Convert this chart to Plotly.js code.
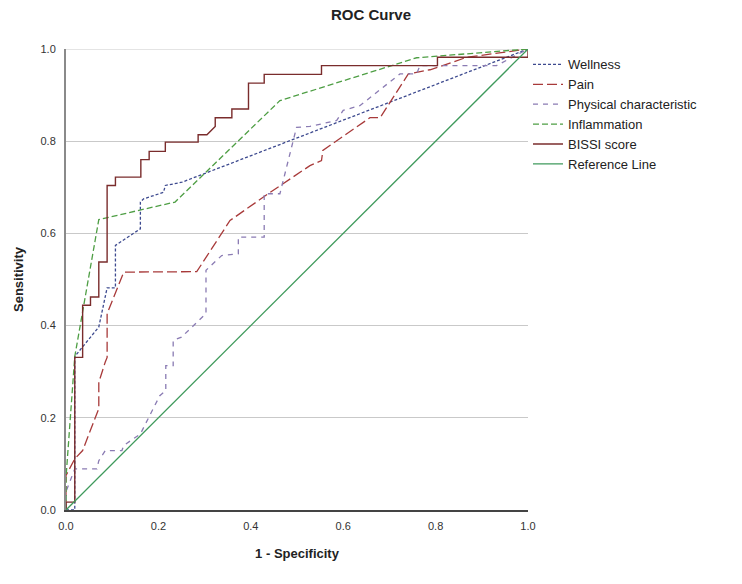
<!DOCTYPE html>
<html>
<head>
<meta charset="utf-8">
<script src="https://cdn.plot.ly/plotly-3.0.1.min.js"></script>
<style>html,body{margin:0;padding:0;background:#fff;}#chart{width:742px;height:584px;}</style>
</head>
<body>
<div id="chart"></div>
<script>
// ---- data ----
const seriesNames = ["Wellness", "Pain", "Physical characteristic", "Inflammation", "BISSI score", "Reference Line"];

const wellnessX = [0, 0.019, 0.019, 0.071, 0.089, 0.107, 0.107, 0.161, 0.161, 0.168, 0.211, 0.215, 0.251, 1];
const wellnessY = [0, 0, 0.333, 0.397, 0.482, 0.482, 0.574, 0.610, 0.668, 0.675, 0.689, 0.704, 0.711, 1];

const painX = [0, 0, 0.019, 0.036, 0.071, 0.071, 0.085, 0.089, 0.089, 0.125, 0.283, 0.326, 0.355, 0.442, 0.528, 0.553, 0.556, 0.658, 0.680, 0.741, 0.788, 0.810, 0.867, 1];
const painY = [0, 0.075, 0.111, 0.129, 0.220, 0.277, 0.321, 0.331, 0.426, 0.516, 0.517, 0.585, 0.628, 0.689, 0.747, 0.758, 0.780, 0.851, 0.851, 0.946, 0.955, 0.962, 0.982, 1];

const physX = [0, 0, 0.019, 0.067, 0.071, 0.085, 0.121, 0.125, 0.161, 0.203, 0.216, 0.216, 0.232, 0.232, 0.250, 0.303, 0.303, 0.337, 0.373, 0.373, 0.429, 0.429, 0.463, 0.499, 0.528, 0.586, 0.600, 0.636, 0.723, 0.759, 0.766, 0.932, 1];
const physY = [0, 0.040, 0.089, 0.089, 0.107, 0.129, 0.129, 0.140, 0.165, 0.248, 0.259, 0.313, 0.313, 0.368, 0.375, 0.426, 0.520, 0.552, 0.556, 0.592, 0.592, 0.686, 0.686, 0.830, 0.832, 0.845, 0.867, 0.877, 0.946, 0.946, 0.964, 0.964, 1];

const inflX = [0, 0, 0.019, 0.071, 0.236, 0.463, 0.759, 1];
const inflY = [0, 0.070, 0.333, 0.630, 0.668, 0.888, 0.981, 1];

const bissiX = [0, 0, 0.019, 0.019, 0.036, 0.036, 0.053, 0.053, 0.071, 0.071, 0.089, 0.089, 0.107, 0.107, 0.162, 0.162, 0.180, 0.180, 0.215, 0.215, 0.286, 0.286, 0.305, 0.323, 0.323, 0.359, 0.359, 0.395, 0.395, 0.429, 0.429, 0.553, 0.553, 0.804, 0.804, 1, 1];
const bissiY = [0, 0.017, 0.017, 0.331, 0.331, 0.444, 0.444, 0.462, 0.462, 0.538, 0.538, 0.704, 0.704, 0.722, 0.722, 0.760, 0.760, 0.778, 0.778, 0.798, 0.798, 0.814, 0.814, 0.832, 0.851, 0.851, 0.870, 0.870, 0.926, 0.926, 0.945, 0.945, 0.964, 0.964, 0.982, 0.982, 1];

const refX = [0, 1];
const refY = [0, 1];

const tickVals = [0, 0.2, 0.4, 0.6, 0.8, 1.0];
const tickText = ["0.0", "0.2", "0.4", "0.6", "0.8", "1.0"];

// ---- styles ----
const styles = [
  {color: "#3d4a8f", width: 1.3, dash: "3px,2px"},
  {color: "#a83a3a", width: 1.3, dash: "10px,4px"},
  {color: "#8a7bb3", width: 1.3, dash: "5px,5px"},
  {color: "#4e9e44", width: 1.3, dash: "6px,3px"},
  {color: "#7a2c2c", width: 1.4, dash: "solid"},
  {color: "#3f9a5c", width: 1.3, dash: "solid"}
];
const xs = [wellnessX, painX, physX, inflX, bissiX, refX];
const ys = [wellnessY, painY, physY, inflY, bissiY, refY];

const traces = seriesNames.map((n, i) => ({
  type: "scatter", mode: "lines", name: n,
  x: xs[i], y: ys[i], line: styles[i], hoverinfo: "skip"
}));

const font = {family: "Liberation Sans, Arial, sans-serif", color: "#222"};

const layout = {
  width: 742, height: 584,
  paper_bgcolor: "#fff", plot_bgcolor: "#fff",
  margin: {l: 66, r: 214, t: 49, b: 74},
  font: font,
  showlegend: true,
  title: {text: "<b>ROC Curve</b>", font: {size: 15, family: font.family, color: "#222"},
          x: 0.5, xref: "container", y: 1 - 15/584, yref: "container", yanchor: "middle"},
  xaxis: {range: [0, 1], tickvals: tickVals, ticktext: tickText, showgrid: false, zeroline: false,
          showline: true, linecolor: "#444", linewidth: 1.5, ticks: "", ticklabelstandoff: 5,
          tickfont: {size: 11, color: "#333"},
          title: {text: "<b>1 - Specificity</b>", font: {size: 13, color: "#222"}, standoff: 18}},
  yaxis: {range: [0, 1], tickvals: tickVals, ticktext: tickText, showgrid: true, gridcolor: "#c9c9c9", gridwidth: 1,
          zeroline: false, showline: true, linecolor: "#8a8a8a", linewidth: 2, ticks: "", ticklabelstandoff: 6,
          tickfont: {size: 11, color: "#333"},
          title: {text: "<b>Sensitivity</b>", font: {size: 13, color: "#222"}, standoff: 14}},
  shapes: [{type: "line", xref: "paper", yref: "y", x0: 0, x1: 1, y0: 1, y1: 1,
            line: {color: "#c9c9c9", width: 1}, layer: "below"}],
  legend: {x: 1.0, xanchor: "left", y: 0.999, yanchor: "top", font: {size: 13, color: "#222"},
           bgcolor: "rgba(0,0,0,0)", tracegroupgap: 0, itemwidth: 30}
};

Plotly.newPlot("chart", traces, layout, {displayModeBar: false, staticPlot: true});
</script>
</body>
</html>
